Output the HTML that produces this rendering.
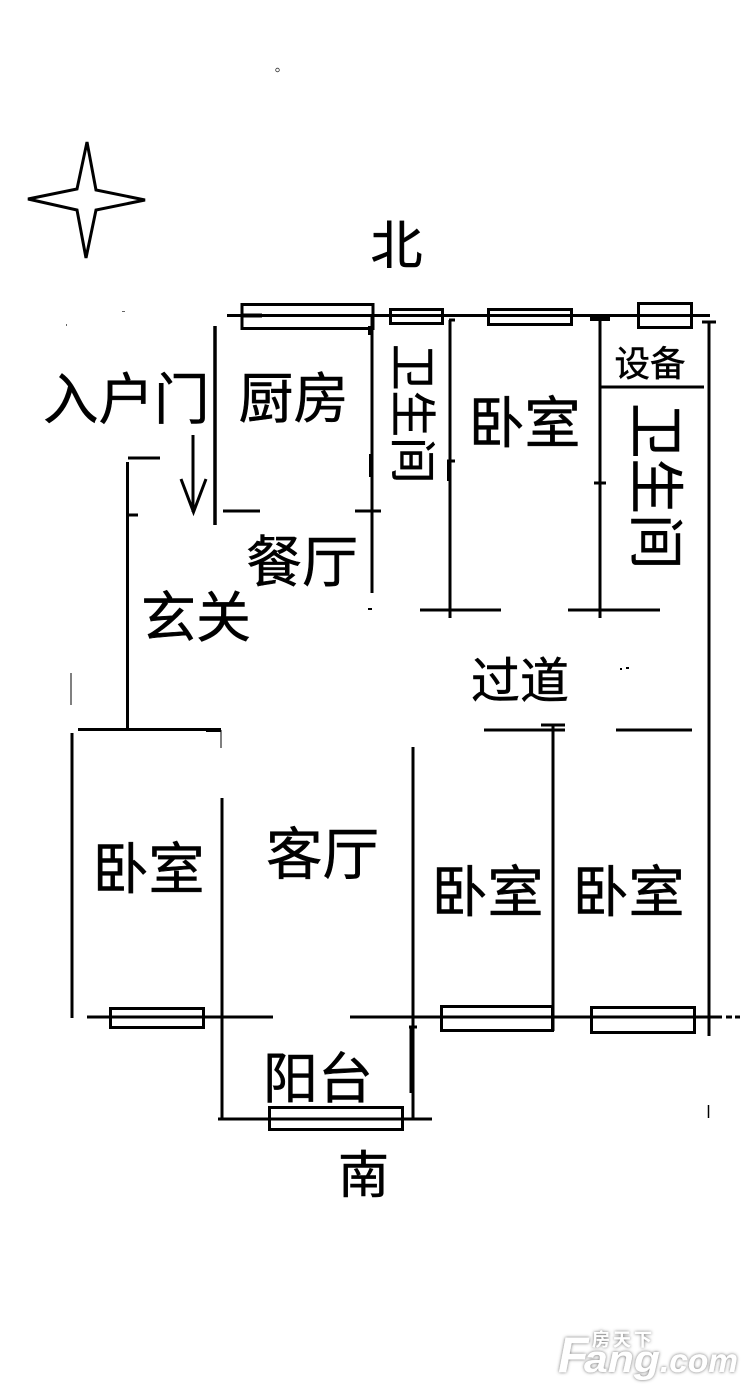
<!DOCTYPE html>
<html lang="zh">
<head>
<meta charset="utf-8">
<title>户型图</title>
<style>
html,body{margin:0;padding:0;background:#fff;width:756px;height:1400px;overflow:hidden}
svg{display:block}
.t{font-family:"Liberation Sans","WenQuanYi Zen Hei","Noto Sans CJK SC",sans-serif;fill:#000;stroke:#000;stroke-width:.5px}
</style>
</head>
<body>
<svg width="756" height="1400" viewBox="0 0 756 1400" xmlns="http://www.w3.org/2000/svg">
<defs>
<filter id="s" x="-10%" y="-20%" width="120%" height="140%">
<feDropShadow dx="0" dy="0" stdDeviation="1.6" flood-color="#555" flood-opacity=".9"/>
</filter>
</defs>
<rect width="756" height="1400" fill="#fff"/>

<!-- small circle -->
<circle cx="277.500" cy="70" r="1.8" fill="none" stroke="#333" stroke-width="0.8"/>

<!-- compass star -->
<path d="M87 142 L96 190 L145 200 L96 210 L86 258 L77 210 L28 199 L77 189 Z" fill="#fff" stroke="#000" stroke-width="3" stroke-linejoin="miter"/>

<g stroke="#000" stroke-width="3" fill="none">
<!-- top wall -->
<path d="M227 315.500H710"/>
<path d="M241 315.500H262" stroke-width="4"/>
<!-- windows top -->
<rect x="242" y="304.500" width="131" height="24"/>
<rect x="390.500" y="309.500" width="52" height="14"/>
<rect x="488.500" y="309.500" width="83" height="15"/>
<rect x="638.500" y="303.500" width="53" height="24"/>

<!-- kitchen -->
<path d="M215 326V525" stroke-width="3.500"/>
<path d="M223 511H260"/>
<path d="M355 511H381"/>
<path d="M372 316V593"/>
<path d="M370 326V335" stroke-width="4"/>
<path d="M371 454V477" stroke-width="4"/>
<!-- entry -->
<path d="M128 458H160"/>
<path d="M127.500 462V731"/>
<path d="M127 515H138"/>
<!-- arrow -->
<path d="M193 435V512" stroke-width="3"/>
<path d="M181 479L193.500 512L206 479" stroke-width="3"/>

<!-- bath 1 -->
<path d="M449 320H455" stroke-width="3"/>
<path d="M450 320V618"/>
<path d="M447 461H455" stroke-width="3"/>
<path d="M449 461V481" stroke-width="4"/>
<path d="M420 610H501"/>
<!-- right bath -->
<path d="M590 319H610" stroke-width="4"/>
<path d="M600 320V618"/>
<path d="M594 483H606"/>
<path d="M568 610H660"/>
<path d="M600 387H704"/>
<!-- right wall -->
<path d="M702 322H716"/>
<path d="M709 322V1036"/>

<!-- middle walls -->
<path d="M78 729.500H221"/>
<path d="M206 730H221" stroke-width="4"/>
<path d="M221 730V748" stroke-width="1"/>
<path d="M72 733V1018"/>
<path d="M71 673V705" stroke-width="1"/>
<path d="M222 798V1120"/>
<path d="M413 747V1120"/>
<path d="M484 730H565"/>
<path d="M541 725H565"/>
<path d="M553 725V1031"/>
<path d="M616 730H692"/>

<!-- bottom wall -->
<path d="M87 1017H273"/>
<path d="M350 1017H695"/>
<path d="M695 1017H722M726 1017H732M735 1017H740"/>
<rect x="110.500" y="1008.500" width="93" height="19"/>
<rect x="441.500" y="1006.500" width="111" height="24"/>
<rect x="591.500" y="1007.500" width="103" height="25"/>

<!-- balcony -->
<path d="M411.500 1027V1093" stroke-width="4"/>
<path d="M409 1027H417"/>
<path d="M218 1119H432"/>
<rect x="269.500" y="1107.500" width="133" height="22"/>
<path d="M708.500 1105V1118" stroke-width="1.500"/>
</g>

<!-- specks -->
<rect x="368" y="608" width="4" height="2" fill="#000"/>
<rect x="620" y="668" width="2" height="2" fill="#000"/>
<rect x="626" y="667" width="3" height="2" fill="#000"/>
<rect x="66" y="324" width="1" height="2" fill="#666"/>
<rect x="122" y="311" width="3" height="1" fill="#666"/>

<!-- labels -->
<text class="t" x="370.500" y="264" font-size="52">北</text>
<text class="t" x="43" y="419" font-size="55.500">入户门</text>
<text class="t" x="238.500" y="418" font-size="55">厨房</text>
<text class="t" x="246" y="582" font-size="56">餐厅</text>
<text class="t" x="141" y="637" font-size="55">玄关</text>
<text class="t" x="471" y="698" font-size="49">过道</text>
<text class="t" x="468.500" y="443" font-size="56">卧室</text>
<text class="t" x="614.500" y="376" font-size="35.500">设备</text>
<text class="t" x="92.500" y="889" font-size="56">卧室</text>
<text class="t" x="266" y="874" font-size="56.500">客厅</text>
<text class="t" x="431.500" y="912" font-size="56">卧室</text>
<text class="t" x="572.500" y="912" font-size="56">卧室</text>
<text class="t" x="263" y="1098" font-size="55">阳台</text>
<text class="t" x="338" y="1193" font-size="51">南</text>
<text class="t" font-size="46.500" transform="translate(396 344) rotate(90)">卫生间</text>
<text class="t" font-size="55.500" transform="translate(636 403) rotate(90)">卫生间</text>

<!-- watermark -->
<g filter="url(#s)" fill="#fff" font-family="'Liberation Sans',sans-serif" font-weight="bold" font-style="italic">
<text x="558" y="1372" font-size="50">F</text>
<text x="584" y="1372" font-size="38" textLength="76" lengthAdjust="spacingAndGlyphs">ang</text>
<text x="660" y="1372" font-size="33" textLength="78" lengthAdjust="spacingAndGlyphs">.com</text>
<text x="592" y="1346" font-size="18" font-style="normal" font-weight="bold" font-family="'Liberation Sans','Noto Sans CJK SC',sans-serif" textLength="60">房天下</text>
</g>
</svg>
</body>
</html>
